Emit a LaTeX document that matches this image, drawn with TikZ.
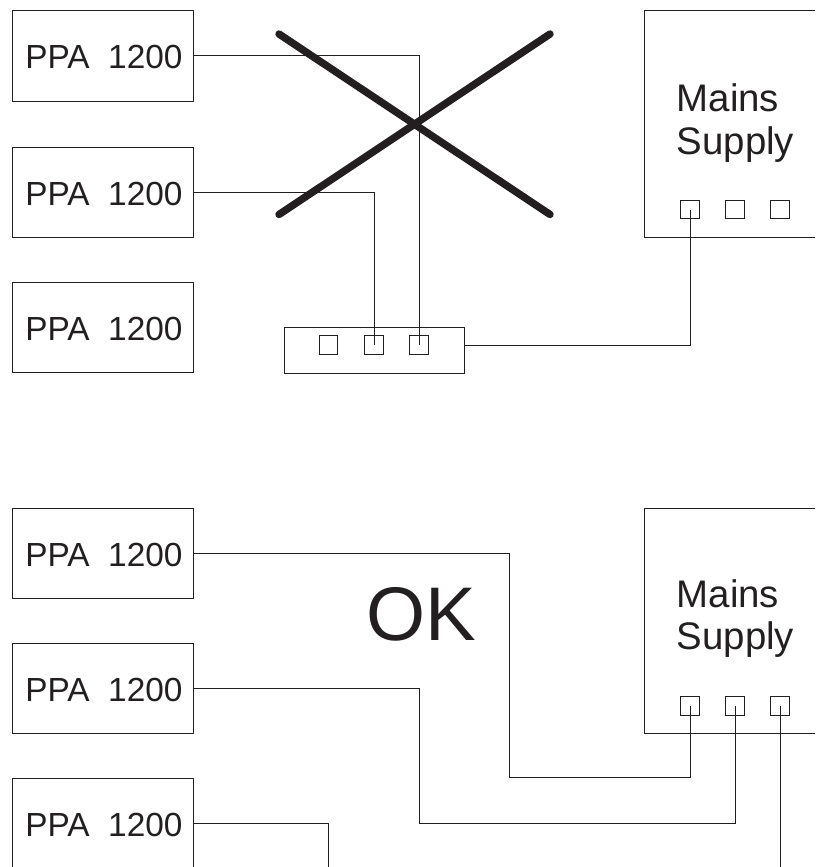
\documentclass[tikz,border=0pt]{standalone}
\usepackage{fontspec}
\setmainfont{Liberation Sans}
\definecolor{ink}{HTML}{231F20}
\tikzset{
  ppabox/.style={draw=ink,line width=1pt,minimum width=181pt,minimum height=90pt,inner sep=0pt,text=ink,text height=26pt,text depth=0pt,font=\fontsize{33.4}{36}\selectfont,execute at begin node=\hspace*{2.8pt}},
  ppatext/.style={inner sep=0pt,text=ink,text height=26pt,text depth=0pt,font=\fontsize{33.4}{36}\selectfont,execute at begin node=\hspace*{2.8pt}},
  socket/.style={draw=ink,line width=1pt,minimum size=18.5pt,inner sep=0pt},
  wire/.style={draw=ink,line width=1pt},
  frameline/.style={draw=ink,line width=1pt},
  mainslabel/.style={text=ink,inner sep=0pt,align=left,anchor=base west,font=\fontsize{38.4}{42.4}\selectfont},
  crossbar/.style={draw=ink,line width=7.4pt,line cap=round}
}
\begin{document}
\begin{tikzpicture}[x=1pt,y=-1pt]
\useasboundingbox (0,0) rectangle (815,867);
% top group
\node[ppabox] (a1) at (102.5,56) {PPA\ \ 1200};
\node[ppabox] (a2) at (102.5,192) {PPA\ \ 1200};
\node[ppabox] (a3) at (102.5,327.5) {PPA\ \ 1200};
\coordinate (mtl) at (644.5,11);
\coordinate (mtr) at (815,11);
\coordinate (mbl) at (644.5,237);
\coordinate (mbr) at (815,237);
\draw[frameline] (mtr) -- (mtl) -- (mbl) -- (mbr);
\node[mainslabel] (mtxt) at (676.5,154) {Mains\\Supply};
\node[socket] (ms1) at (690,209.5) {};
\node[socket] (ms2) at (735,209.5) {};
\node[socket] (ms3) at (780,209.5) {};
\node[draw=ink,line width=1pt,minimum width=180pt,minimum height=46pt,inner sep=0pt] (strip) at (374,350) {};
\node[socket] (s1) at (328.5,345) {};
\node[socket] (s2) at (374,345) {};
\node[socket] (s3) at (419,345) {};
\path[wire] (a1.east) -| (s3.center);
\path[wire] (a2.east) -| (s2.center);
\path[wire] (strip.east |- s3.center) -| (ms1.center);
\coordinate (c1) at (279,34);
\coordinate (c2) at (550,214.5);
\coordinate (c3) at (550,34);
\coordinate (c4) at (279,214.5);
\draw[crossbar] (c1) -- (c2);
\draw[crossbar] (c3) -- (c4);
% bottom group
\node[ppabox] (b1) at (102.5,553) {PPA\ \ 1200};
\node[ppabox] (b2) at (102.5,688) {PPA\ \ 1200};
\coordinate (btl) at (12.5,778);
\coordinate (btr) at (193,778);
\coordinate (bbl) at (12.5,867);
\coordinate (bbr) at (193,867);
\draw[frameline] (bbl) -- (btl) -- (btr) -- (bbr);
\node[ppatext] (b3) at (102.5,823) {PPA\ \ 1200};
\coordinate (nw) at (644.5,508);
\coordinate (ne) at (815,508);
\coordinate (sw) at (644.5,733);
\coordinate (se) at (815,733);
\draw[frameline] (ne) -- (nw) -- (sw) -- (se);
\node[mainslabel] (ntxt) at (676.5,649.7) {Mains\\Supply};
\node[socket] (n1) at (690,706) {};
\node[socket] (n2) at (735,706) {};
\node[socket] (n3) at (780,706) {};
\node[text=ink,inner sep=0pt,anchor=base,font=\fontsize{76}{80}\selectfont] (ok) at (421.7,640.5) {OK};
\coordinate (j1a) at (509,553);
\coordinate (j1b) at (509,777);
\coordinate (j2a) at (419,688);
\coordinate (j2b) at (419,823);
\coordinate (j3) at (328,823);
\coordinate (j3e) at (328,867);
\coordinate (j4e) at (780,867);
\path[wire] (b1.east) -- (j1a) -- (j1b) -| (n1.center);
\path[wire] (b2.east) -- (j2a) -- (j2b) -| (n2.center);
\path[wire] (btr |- j3) -- (j3) -- (j3e);
\path[wire] (n3.center) -- (j4e);
\end{tikzpicture}
\end{document}
